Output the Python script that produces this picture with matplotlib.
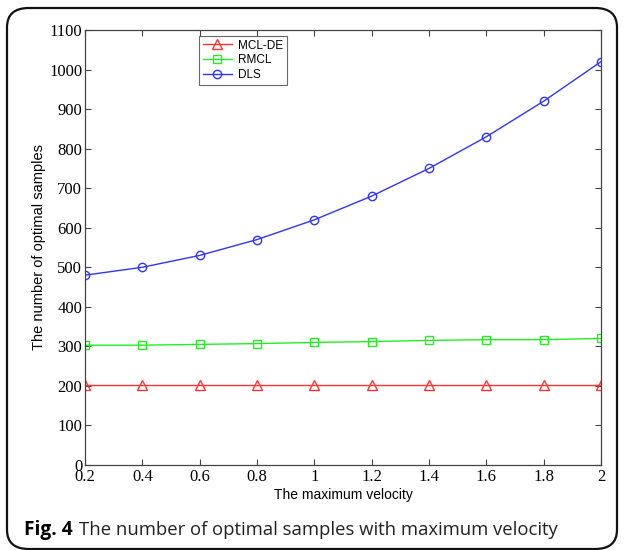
import matplotlib
matplotlib.use("Agg")
import matplotlib.pyplot as plt
from matplotlib.patches import FancyBboxPatch

velocity = [0.2, 0.4, 0.6, 0.8, 1.0, 1.2, 1.4, 1.6, 1.8, 2.0]
mcl_de = [203, 203, 203, 203, 203, 203, 203, 203, 203, 203]
rmcl = [303, 303, 305, 307, 310, 312, 315, 317, 317, 320]
dls = [480, 500, 530, 570, 620, 680, 750, 830, 920, 1020]

serif = ["Liberation Serif", "DejaVu Serif"]
sans = ["Liberation Sans", "DejaVu Sans"]
caption_font = ["Open Sans", "DejaVu Sans"]


def main():
    fig = plt.figure(figsize=(6.25, 5.5), dpi=100)
    W, H = 625, 550

    # rounded frame around the whole figure
    frame = FancyBboxPatch((7 / W, 1 / H), 610 / W, 541 / H,
                           boxstyle="round,pad=0,rounding_size=0.035",
                           transform=fig.transFigure, fill=False,
                           edgecolor="#111111", linewidth=1.6)
    fig.patches.append(frame)

    ax = fig.add_axes([85 / W, 1 - 465 / H, (601 - 85) / W, (465 - 30) / H])

    ax.plot(velocity, mcl_de, color="#ff3333", marker="^", markersize=6.5,
            markerfacecolor="none", lw=1.0, label="MCL-DE")
    ax.plot(velocity, rmcl, color="#22ee22", marker="s", markersize=6,
            markerfacecolor="none", lw=1.0, label="RMCL")
    ax.plot(velocity, dls, color="#3333ff", marker="o", markersize=6,
            markerfacecolor="none", lw=1.0, label="DLS")

    ax.set_xlim(0.2, 2)
    ax.set_ylim(0, 1100)
    ax.set_xticks([0.2, 0.4, 0.6, 0.8, 1, 1.2, 1.4, 1.6, 1.8, 2])
    ax.set_xticklabels(["0.2", "0.4", "0.6", "0.8", "1", "1.2", "1.4",
                        "1.6", "1.8", "2"])
    ax.set_yticks(range(0, 1101, 100))
    ax.tick_params(direction="in", top=True, right=True, length=4,
                   width=0.8, color="#444444", labelsize=12, pad=2)
    ax.tick_params(axis="x", pad=3)
    for lab in ax.get_xticklabels() + ax.get_yticklabels():
        lab.set_fontfamily(serif)
    for s in ax.spines.values():
        s.set_linewidth(0.9)
        s.set_color("#444444")

    ax.set_xlabel("The maximum velocity", family=sans, fontsize=10,
                  labelpad=2)
    ax.set_ylabel("The number of optimal samples", family=sans,
                  fontsize=10.5, labelpad=2)

    leg = ax.legend(loc="upper left", bbox_to_anchor=(114 / 516, 1 - 6 / 435),
                    prop={"family": sans, "size": 8.5}, frameon=True,
                    fancybox=False, edgecolor="#444444", handlelength=2.5,
                    borderpad=0.3, labelspacing=0.25, handletextpad=0.5,
                    borderaxespad=0)
    leg.get_frame().set_linewidth(0.8)

    # caption: bold "Fig. 4" followed by the plain text
    fig_lbl = fig.text(24 / W, 1 - 530 / H, "Fig. 4", fontsize=13.8,
                       weight="bold", family=caption_font, va="center")
    fig.canvas.draw()
    x_end = fig_lbl.get_window_extent().x1
    fig.text((x_end + 6) / W, 1 - 530 / H,
             "The number of optimal samples with maximum velocity",
             fontsize=13.3, family=caption_font, va="center", color="#222222")

    fig.savefig("out.png", dpi=100)


if __name__ == "__main__":
    main()
